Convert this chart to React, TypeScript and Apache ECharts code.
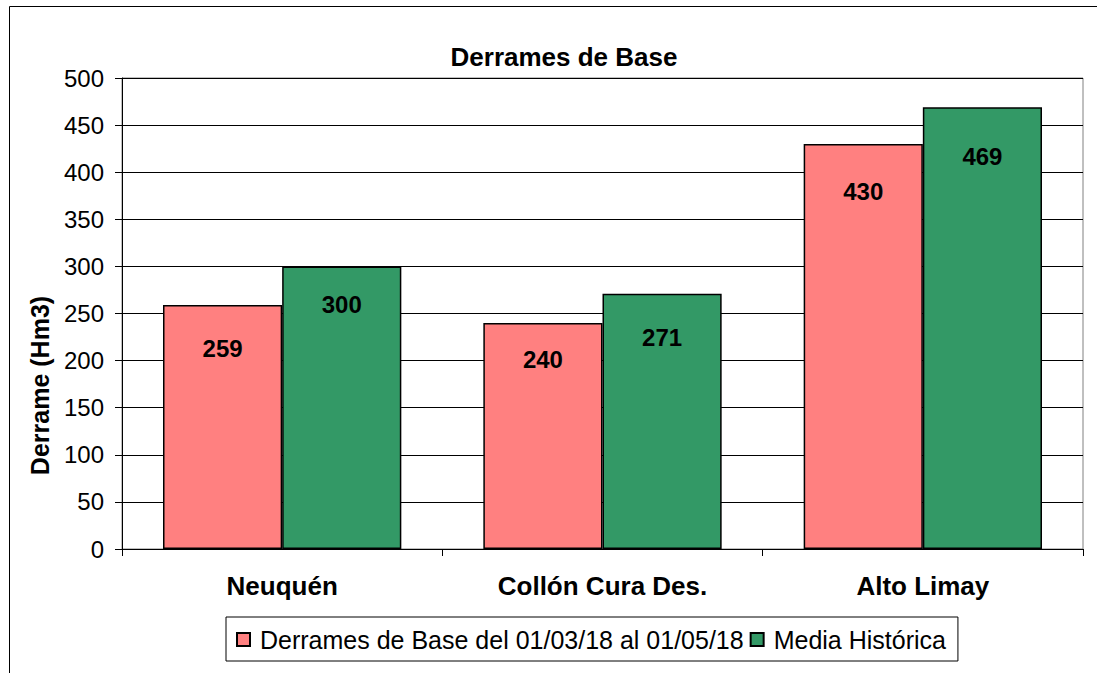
import React, { useEffect, useRef } from "react";
import * as echarts from "echarts";

const categories = ["Neuquén", "Collón Cura Des.", "Alto Limay"];
const seriesNames = ["Derrames de Base del 01/03/18 al 01/05/18", "Media Histórica"];
const derramesBase = [259, 240, 430];
const mediaHistorica = [300, 271, 469];
const labelShiftBase = [-2, -8, 3];
const labelShiftMedia = [-7, -1, 4];

const FONT = "'Liberation Sans', Arial, sans-serif";

export default function App() {
  const ref = useRef<HTMLDivElement>(null);
  useEffect(() => {
    if (!ref.current) return;
    const chart = echarts.init(ref.current, undefined, { renderer: "svg" });
    const mk = (vals: number[], shifts: number[]) =>
      vals.map((v, i) => ({ value: v, label: { offset: [0, shifts[i]] } }));
    const labelStyle = {
      show: true,
      position: "insideTop",
      distance: 33,
      color: "#000",
      fontWeight: "bold",
      fontSize: 24,
      fontFamily: FONT,
    };
    chart.setOption({
      animation: false,
      backgroundColor: "#fff",
      textStyle: { fontFamily: FONT },
      graphic: [
        {
          type: "rect",
          shape: { x: 9.5, y: 6.5, width: 1200, height: 800 },
          style: { fill: "none", stroke: "#000", lineWidth: 1 },
          silent: true,
        },
      ],
      title: {
        text: "Derrames de Base",
        left: 559,
        top: 39,
        textAlign: "center",
        textStyle: { fontSize: 26, fontWeight: "bold", color: "#000", fontFamily: FONT },
      },
      legend: {
        bottom: 12,
        left: 226,
        data: seriesNames,
        itemWidth: 13,
        itemHeight: 13,
        itemGap: 6,
        padding: [10, 12, 9, 10],
        borderColor: "#000",
        borderWidth: 1,
        icon: "rect",
        textStyle: { fontSize: 25, color: "#000", fontFamily: FONT, padding: [0, 0, 0, 5] },
      },
      grid: {
        left: 122,
        right: 14,
        top: 78,
        bottom: 124,
        show: true,
        borderColor: "#808080",
        borderWidth: 1,
      },
      xAxis: {
        type: "category",
        data: categories,
        axisLine: { lineStyle: { color: "#000", width: 1 } },
        axisTick: { show: true, length: 7, lineStyle: { color: "#000" } },
        axisLabel: {
          color: "#000",
          fontWeight: "bold",
          fontSize: 26,
          fontFamily: FONT,
          margin: 24,
        },
      },
      yAxis: {
        type: "value",
        min: 0,
        max: 500,
        interval: 50,
        name: "Derrame (Hm3)",
        nameLocation: "middle",
        nameGap: 70,
        nameTextStyle: {
          color: "#000",
          fontWeight: "bold",
          fontSize: 25,
          fontFamily: FONT,
          padding: [0, 144, 0, 0],
        },
        axisLine: { show: true, lineStyle: { color: "#000", width: 1 } },
        axisTick: { show: true, length: 7, lineStyle: { color: "#000" } },
        axisLabel: { color: "#000", fontSize: 24, fontFamily: FONT, margin: 18 },
        splitLine: { show: true, lineStyle: { color: "#000", width: 1 } },
      },
      series: [
        {
          name: seriesNames[0],
          type: "bar",
          data: mk(derramesBase, labelShiftBase),
          barGap: "0%",
          barCategoryGap: "25.6%",
          itemStyle: { color: "#FF8080", borderColor: "#000", borderWidth: 1.5 },
          label: labelStyle,
        },
        {
          name: seriesNames[1],
          type: "bar",
          data: mk(mediaHistorica, labelShiftMedia),
          barGap: "0%",
          barCategoryGap: "25.6%",
          itemStyle: { color: "#339966", borderColor: "#000", borderWidth: 1.5 },
          label: labelStyle,
        },
      ],
    });
    return () => chart.dispose();
  }, []);
  return (
    <div
      ref={ref}
      style={{ position: "fixed", left: 0, top: 0, width: 1097, height: 673, background: "#fff" }}
    />
  );
}
